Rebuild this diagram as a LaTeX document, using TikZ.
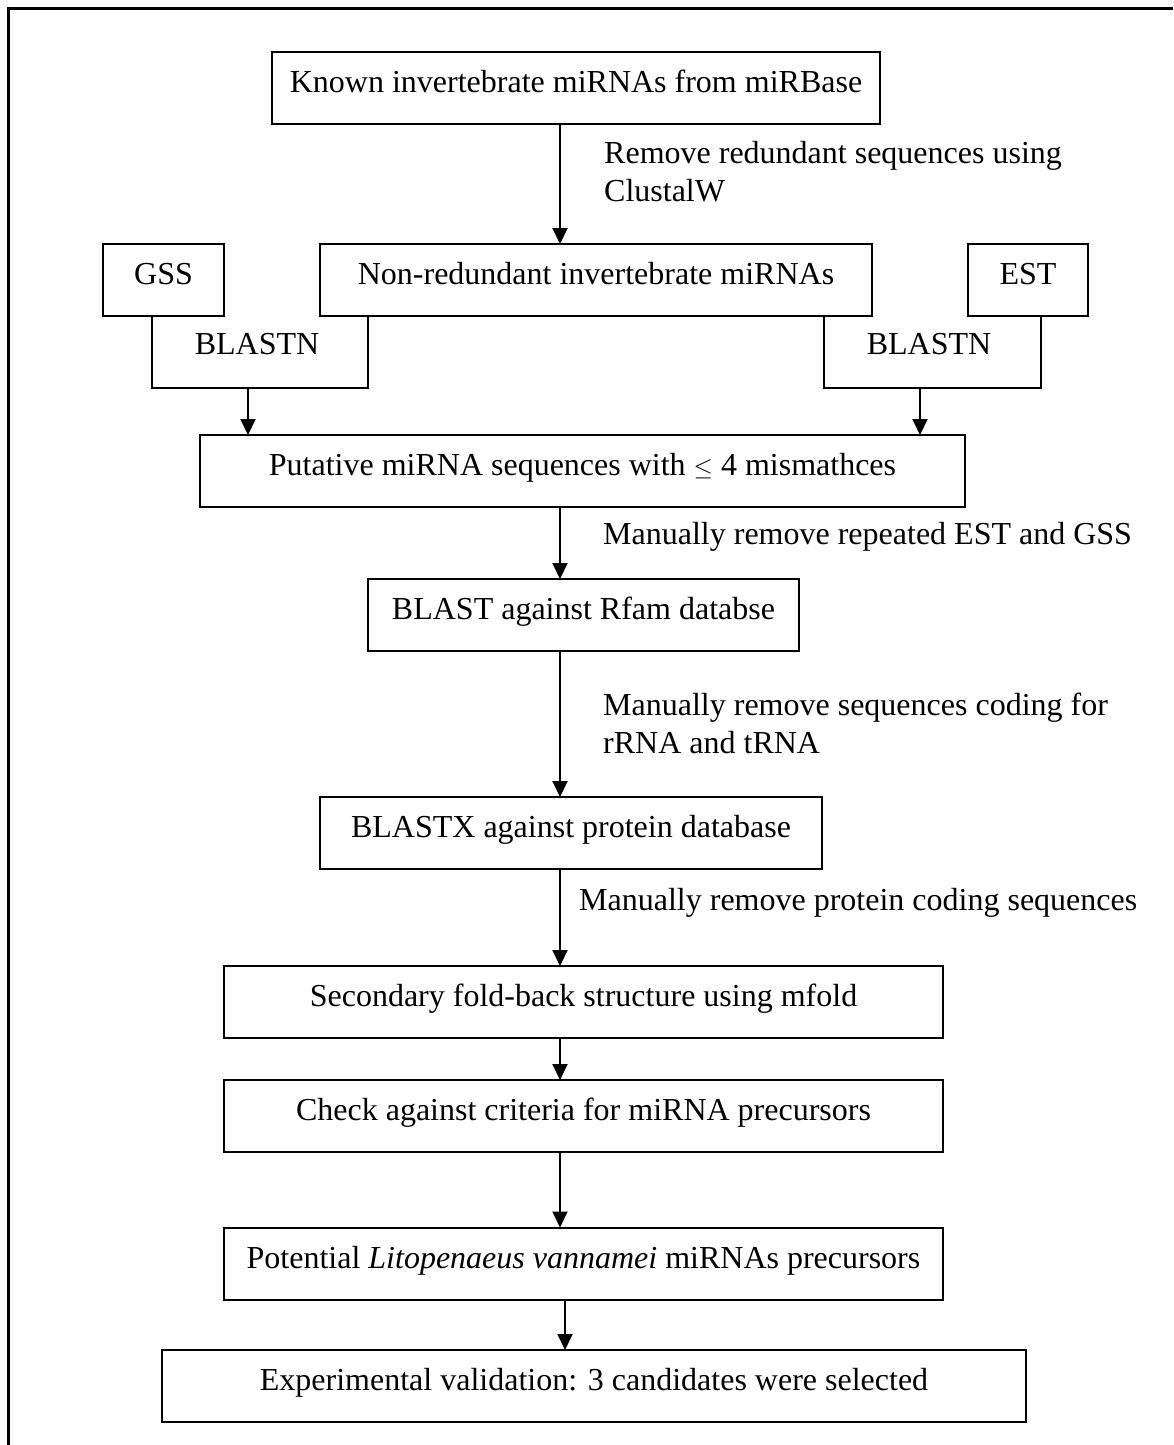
\documentclass[tikz,border=0pt]{standalone}
\usepackage{fontspec}
\setmainfont{Liberation Serif}
\usetikzlibrary{arrows.meta}

\tikzset{
  stagebox/.style={draw, line width=2pt, inner sep=0pt, outer sep=0pt,
    minimum height=72pt, text height=22pt, text depth=13pt},
  arr/.style={line width=2pt, -{Triangle[width=15pt,length=16pt]}},
  link/.style={line width=2pt},
  note/.style={anchor=west, align=left, inner sep=0pt}
}

\begin{document}
\begin{tikzpicture}[x=1pt, y=-1pt, font=\fontsize{32}{38}\selectfont]
\useasboundingbox (0,0) rectangle (1173,1445);

% outer frame
\draw[line width=3pt] (8,1445) -- (8,9) -- (1173,9);

\node[stagebox, minimum width=608pt] (known) at (576,88) {Known invertebrate miRNAs from miRBase};
\node[stagebox, minimum width=552pt] (nonred) at (596,280) {Non-redundant invertebrate miRNAs};
\node[stagebox, minimum width=121pt] (gss) at (163.5,280) {GSS};
\node[stagebox, minimum width=120pt] (est) at (1028,280) {EST};
\node[stagebox, minimum width=765pt] (putative) at (582.5,471) {Putative miRNA sequences with $\leq$ 4 mismathces};
\node[stagebox, minimum width=431pt] (blast) at (583.5,615) {BLAST against Rfam databse};
\node[stagebox, minimum width=502pt] (blastx) at (571,833) {BLASTX against protein database};
\node[stagebox, minimum width=719pt] (fold) at (583.5,1002) {Secondary fold-back structure using mfold};
\node[stagebox, minimum width=719pt] (check) at (583.5,1116) {Check against criteria for miRNA precursors};
\node[stagebox, minimum width=719pt] (potential) at (583.5,1263.5) {Potential \textit{Litopenaeus vannamei} miRNAs precursors};
\node[stagebox, minimum width=864pt] (valid) at (594,1386) {Experimental validation: 3 candidates were selected};

% spine of the flow
\coordinate (spine) at (560,0);
\coordinate (spineb) at (565,0);

\draw[arr] (known.south -| spine) -- (nonred.north -| spine);
\draw[arr] (putative.south -| spine) -- (blast.north -| spine);
\draw[arr] (blast.south -| spine) -- (blastx.north -| spine);
\draw[arr] (blastx.south -| spine) -- (fold.north -| spine);
\draw[arr] (fold.south -| spine) -- (check.north -| spine);
\draw[arr] (check.south -| spine) -- (potential.north -| spine);
\draw[arr] (potential.south -| spineb) -- (valid.north -| spineb);

% BLASTN brackets
\coordinate (lfoot) at (152,388);
\coordinate (lmid) at (248,388);
\coordinate (lend) at (368,388);
\coordinate (rfoot) at (824,388);
\coordinate (rmid) at (920,388);
\coordinate (rend) at (1041,388);

\draw[link] (gss.south -| lfoot) -- (lfoot) -- (lend) -- (nonred.south -| lend);
\draw[arr] (lmid) -- (putative.north -| lmid);
\draw[link] (nonred.south -| rfoot) -- (rfoot) -- (rend) -- (est.south -| rend);
\draw[arr] (rmid) -- (putative.north -| rmid);

\node (blastnl) at (257,344) {BLASTN};
\node (blastnr) at (929,344) {BLASTN};

% step notes
\node[note] (n1) at (604,172) {Remove redundant sequences using\\ClustalW};
\node[note] (n2) at (603,537) {Manually remove repeated EST and GSS};
\node[note] (n3) at (603,723) {Manually remove sequences coding for\\rRNA and tRNA};
\node[note] (n4) at (579,903) {Manually remove protein coding sequences};
\end{tikzpicture}
\end{document}
